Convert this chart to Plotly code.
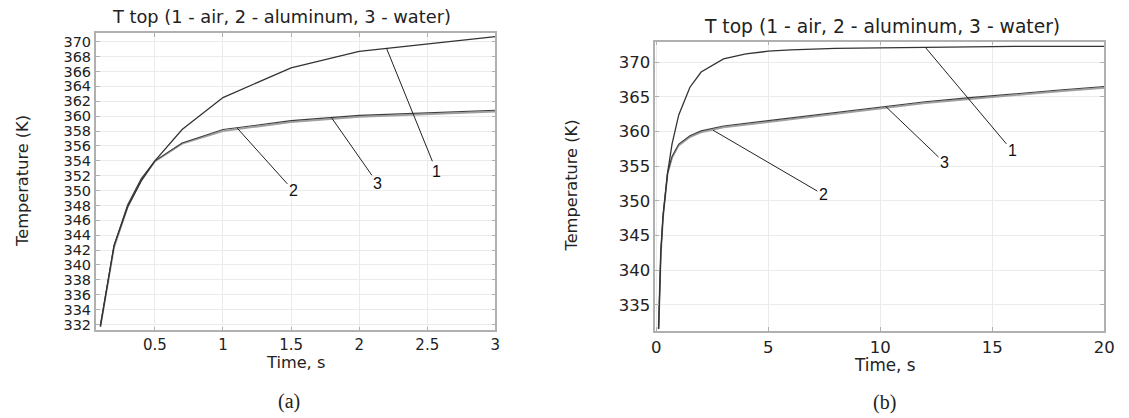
import plotly.graph_objects as go

# ---------------- data (a) ----------------
t_a = [0.1, 0.2, 0.3, 0.4, 0.5, 0.7, 1.0, 1.5, 2.0, 3.0]
air_a = [331.7, 342.6, 347.8, 351.3, 354.0, 358.2, 362.5, 366.5, 368.7, 370.7]
alu_a = [331.9, 342.6, 348.1, 351.6, 354.0, 356.4, 358.2, 359.4, 360.1, 360.8]
wat_a = [331.7, 342.3, 347.8, 351.4, 353.9, 356.3, 358.0, 359.2, 359.9, 360.6]

# ---------------- data (b) ----------------
t_b = [0.1, 0.2, 0.3, 0.5, 0.7, 1.0, 1.5, 2.0, 3.0, 4.0, 5.0, 6.0, 8.0, 10.0, 12.0, 14.0, 16.0, 18.0, 20.0]
air_b = [331.5, 342.6, 347.8, 354.0, 358.2, 362.4, 366.4, 368.6, 370.5, 371.2, 371.6, 371.8, 372.0, 372.1, 372.2, 372.2, 372.3, 372.3, 372.3]
alu_b = [331.7, 342.6, 348.0, 354.0, 356.4, 358.2, 359.4, 360.1, 360.8, 361.2, 361.6, 362.0, 362.8, 363.6, 364.3, 364.9, 365.5, 366.0, 366.5]
wat_b = [331.5, 342.3, 347.7, 353.9, 356.2, 358.0, 359.2, 359.9, 360.6, 361.0, 361.4, 361.8, 362.6, 363.4, 364.1, 364.7, 365.3, 365.8, 366.3]

# label leader lines: (label, curve point x, y, label x, y)
labels_a = [("1", 2.20, 369.15, 2.567, 352.6),
            ("3", 1.795, 359.85, 2.137, 350.9),
            ("2", 1.104, 358.4, 1.517, 350.0)]
labels_b = [("1", 12.0, 372.2, 15.9, 357.2),
            ("3", 10.25, 363.6, 12.87, 355.5),
            ("2", 2.53, 360.2, 7.46, 350.9)]

W, H = 1129, 418
fig = go.Figure()

def add_series(t, ys, xa, ya):
    # water (light) first, then aluminium (dark), then air
    order = [(ys[2], "#a0a0a0", 1.8), (ys[1], "#404040", 1.1), (ys[0], "#333333", 1.3)]
    for y, c, w in order:
        fig.add_trace(go.Scatter(x=t, y=y, mode="lines", line=dict(color=c, width=w),
                                 xaxis=xa, yaxis=ya, showlegend=False, hoverinfo="skip"))

add_series(t_a, [air_a, alu_a, wat_a], "x", "y")
add_series(t_b, [air_b, alu_b, wat_b], "x2", "y2")

annots = []
for lab, px, py, lx, ly in labels_a:
    annots.append(dict(x=px, y=py, ax=lx, ay=ly, xref="x", yref="y", axref="x", ayref="y",
                       text=lab, showarrow=True, arrowhead=0, arrowwidth=1, arrowcolor="#222",
                       font=dict(family="Liberation Sans", size=16, color="#111")))
for lab, px, py, lx, ly in labels_b:
    annots.append(dict(x=px, y=py, ax=lx, ay=ly, xref="x2", yref="y2", axref="x2", ayref="y2",
                       text=lab, showarrow=True, arrowhead=0, arrowwidth=1, arrowcolor="#222",
                       font=dict(family="Liberation Sans", size=16, color="#111")))

def paper(px, py, text, size, family="DejaVu Sans", angle=0):
    return dict(x=px / W, y=1 - py / H, xref="paper", yref="paper", text=text, showarrow=False,
                textangle=angle, xanchor="center", yanchor="middle",
                font=dict(family=family, size=size, color="#222"))

title = "T top (1 - air, 2 - aluminum, 3 - water)"
annots += [
    paper(281, 17, title, 17.8),
    paper(890, 27, title, 18.7),
    paper(18, 182, "Temperature (K)", 16.2, angle=-90),
    paper(575, 186, "Temperature (K)", 16.2, angle=-90),
    paper(295, 364, "Time, s", 16.2),
    paper(892, 367, "Time, s", 16.8),
    paper(289, 403, "(a)", 20, family="Liberation Serif"),
    paper(892, 404, "(b)", 20, family="Liberation Serif"),
]

axis_common = dict(showgrid=True, gridcolor="#ebebeb", gridwidth=1, showline=True,
                   linecolor="#b0b0b0", linewidth=1.5, mirror="ticks", ticks="inside",
                   ticklen=4, tickcolor="#b0b0b0", zeroline=False)

fig.update_layout(
    width=W, height=H, margin=dict(l=0, r=0, t=0, b=0),
    paper_bgcolor="white", plot_bgcolor="white",
    xaxis=dict(domain=[93 / W, 498 / W], range=[0.066, 3.0], tickvals=[0.5, 1, 1.5, 2, 2.5, 3],
               ticktext=["0.5", "1", "1.5", "2", "2.5", "3"], anchor="y",
               tickfont=dict(family="DejaVu Sans", size=15, color="#222"), **axis_common),
    yaxis=dict(domain=[1 - 332 / H, 1 - 33 / H], range=[331.2, 371.2], dtick=2, tick0=332,
               anchor="x", tickfont=dict(family="DejaVu Sans", size=14.5, color="#222"), **axis_common),
    xaxis2=dict(domain=[660 / W, 1115 / W], range=[-0.05, 20.0], dtick=5, anchor="y2",
                tickfont=dict(family="DejaVu Sans", size=16.5, color="#222"), **axis_common),
    yaxis2=dict(domain=[1 - 332.7 / H, 1 - 41.7 / H], range=[331.2, 373.0], dtick=5, tick0=335,
                anchor="x2", tickfont=dict(family="DejaVu Sans", size=16.5, color="#222"), **axis_common),
    annotations=annots,
)

fig.write_html("out.html")
